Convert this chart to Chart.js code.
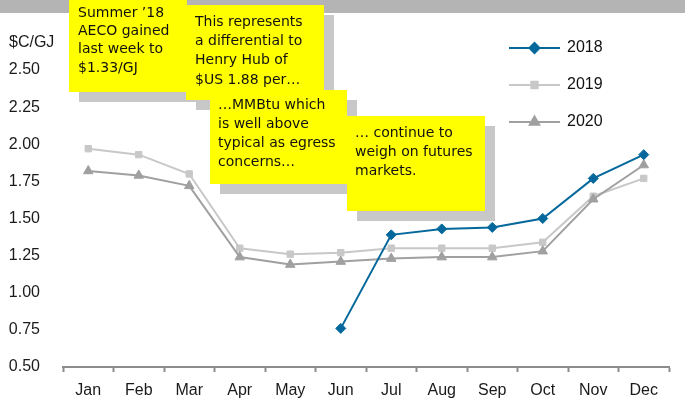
<!DOCTYPE html>
<html>
<head>
<meta charset="utf-8">
<script src="https://cdn.jsdelivr.net/npm/chart.js@4"></script>
<style>
  html, body { margin: 0; padding: 0; background: #fff; }
  #wrap { width: 685px; height: 405px; position: relative; }
</style>
</head>
<body>
<div id="wrap"><canvas id="c" width="685" height="405"></canvas></div>
<script>
// 월 카테고리
const months = ['Jan', 'Feb', 'Mar', 'Apr', 'May', 'Jun', 'Jul', 'Aug', 'Sep', 'Oct', 'Nov', 'Dec'];

// AECO 선물 ($C/GJ) — 그림에서 읽은 값
const aeco2018 = [null, null, null, null, null, 0.76, 1.39, 1.43, 1.44, 1.50, 1.77, 1.93];
const aeco2019 = [1.97, 1.93, 1.80, 1.30, 1.26, 1.27, 1.30, 1.30, 1.30, 1.34, 1.65, 1.77];
const aeco2020 = [1.82, 1.79, 1.72, 1.24, 1.19, 1.21, 1.23, 1.24, 1.24, 1.28, 1.63, 1.86];

const seriesNames = ['2018', '2019', '2020'];
const yTicks = [0.50, 0.75, 1.00, 1.25, 1.50, 1.75, 2.00, 2.25, 2.50];

// 노란 말풍선 메모
const notes = [
  { x: 69,  y: 0,   w: 118, h: 92, lines: ['Summer \u201918', 'AECO gained', 'last week to', '$1.33/GJ'], tx: 78, ty: 13, lh: 18.4 },
  { x: 186, y: 5,   w: 138, h: 95, lines: ['This represents', 'a differential to', 'Henry Hub of', '$US 1.88 per\u2026'], tx: 195, ty: 22, lh: 19.3 },
  { x: 210, y: 90,  w: 137, h: 94, lines: ['\u2026MMBtu which', 'is well above', 'typical as egress', 'concerns\u2026'], tx: 218, ty: 105, lh: 19 },
  { x: 347, y: 116, w: 138, h: 95, lines: ['\u2026 continue to', 'weigh on futures', 'markets.'], tx: 355, ty: 133, lh: 19 }
];

const AXIS_FONT = '"Liberation Sans", Arial, sans-serif';
const NOTE_FONT = '14px "Comic Sans MS", "DejaVu Sans", sans-serif';

// 상단 회색 띠 + '$C/GJ' 라벨 (차트보다 먼저)
const backdropPlugin = {
  id: 'backdrop',
  beforeDraw(chart) {
    const ctx = chart.ctx;
    ctx.save();
    ctx.fillStyle = '#b4b4b4';
    ctx.fillRect(0, 0, chart.width, 13);
    ctx.fillStyle = '#1a1a1a';
    ctx.font = '16px ' + AXIS_FONT;
    ctx.textBaseline = 'middle';
    ctx.textAlign = 'left';
    ctx.fillText('$C/GJ', 9, 43);
    ctx.restore();
  }
};

// 메모 상자 + 범례
const overlayPlugin = {
  id: 'overlay',
  afterDraw(chart) {
    const ctx = chart.ctx;
    ctx.save();

    notes.forEach(n => {
      ctx.fillStyle = '#c8c8c8';
      ctx.fillRect(n.x + 10, n.y + 10, n.w, n.h);
      ctx.fillStyle = '#ffff00';
      ctx.fillRect(n.x, n.y, n.w, n.h);
      ctx.fillStyle = '#111';
      ctx.font = NOTE_FONT;
      ctx.textAlign = 'left';
      ctx.textBaseline = 'middle';
      n.lines.forEach((t, i) => ctx.fillText(t, n.tx, n.ty + i * n.lh));
    });

    // 범례
    chart.data.datasets.forEach((ds, i) => {
      const y = 48 + i * 37;
      ctx.strokeStyle = ds.borderColor;
      ctx.lineWidth = 2;
      ctx.beginPath();
      ctx.moveTo(509, y);
      ctx.lineTo(560, y);
      ctx.stroke();
      ctx.fillStyle = ds.pointBackgroundColor;
      ctx.strokeStyle = ds.pointBackgroundColor;
      Chart.helpers.drawPoint(ctx, {
        pointStyle: ds.pointStyle,
        radius: ds.pointRadius,
        borderWidth: 1,
        rotation: 0
      }, 534.5, y);
      ctx.fillStyle = '#111';
      ctx.font = '16px ' + AXIS_FONT;
      ctx.textAlign = 'left';
      ctx.textBaseline = 'middle';
      ctx.fillText(ds.label, 567, y);
    });

    ctx.restore();
  }
};

const colors = ['#04689c', '#c8c8c8', '#a0a0a0'];
const styles = ['rectRot', 'rect', 'triangle'];
const radii = [5, 4.5, 5.5];
const values = [aeco2018, aeco2019, aeco2020];

// 2018은 맨 위에 그려지도록 order 조정
const datasets = seriesNames.map((name, i) => ({
  label: name,
  data: values[i],
  borderColor: colors[i],
  backgroundColor: colors[i],
  pointBackgroundColor: colors[i],
  pointBorderColor: colors[i],
  pointBorderWidth: 1,
  pointStyle: styles[i],
  pointRadius: radii[i],
  borderWidth: 2,
  tension: 0,
  spanGaps: false,
  order: i === 0 ? 0 : (i === 1 ? 2 : 1),
  clip: false
}));

new Chart(document.getElementById('c'), {
  type: 'line',
  data: { labels: months, datasets },
  plugins: [backdropPlugin, overlayPlugin],
  options: {
    responsive: false,
    animation: false,
    devicePixelRatio: 1,
    layout: { padding: { top: 70, right: 16, left: 0, bottom: 0 } },
    plugins: {
      legend: { display: false },
      tooltip: { enabled: false }
    },
    scales: {
      x: {
        offset: true,
        afterFit(scale) { scale.height = 38; },
        border: { display: true, color: '#8c8c8c', width: 2 },
        grid: {
          offset: true,
          drawOnChartArea: false,
          drawTicks: true,
          tickLength: 5,
          tickColor: '#8c8c8c',
          tickWidth: 2
        },
        ticks: {
          color: '#1a1a1a',
          font: { size: 16, family: AXIS_FONT },
          padding: 9,
          maxRotation: 0,
          autoSkip: false
        }
      },
      y: {
        min: 0.5,
        max: 2.5,
        afterFit(scale) { scale.width = 63; },
        afterBuildTicks(scale) { scale.ticks = yTicks.map(v => ({ value: v })); },
        border: { display: false },
        grid: { display: false },
        ticks: {
          color: '#1a1a1a',
          font: { size: 16, family: AXIS_FONT },
          padding: 15,
          callback: v => Number(v).toFixed(2)
        }
      }
    }
  }
});
</script>
</body>
</html>
